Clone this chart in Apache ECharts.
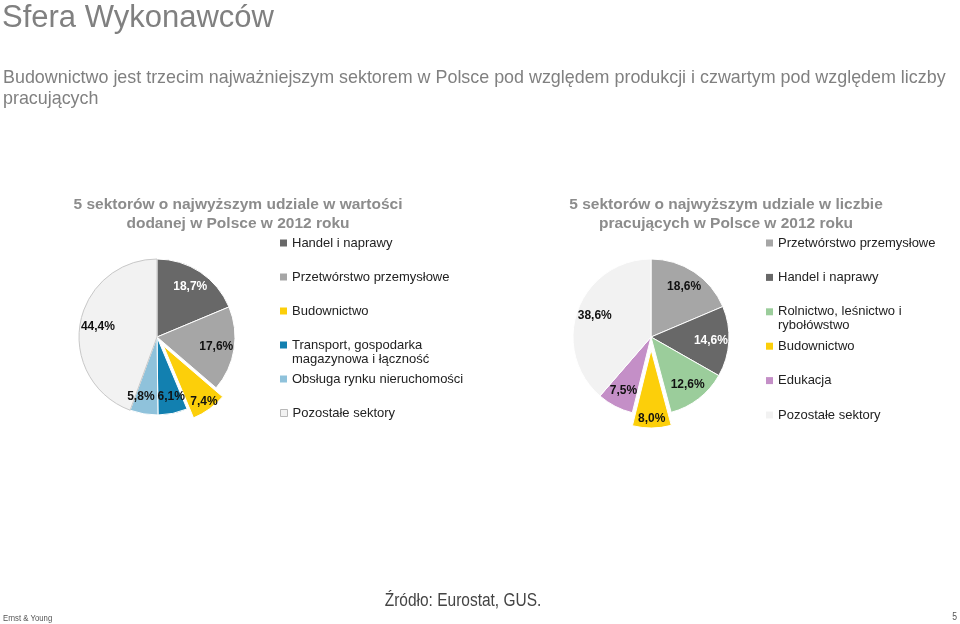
<!DOCTYPE html>
<html>
<head>
<meta charset="utf-8">
<script src="https://cdn.jsdelivr.net/npm/echarts@6/dist/echarts.min.js"></script>
<style>
    html, body { margin: 0; padding: 0; background: #fff; }
    #main { width: 960px; height: 624px; }
</style>
</head>
<body>
<div id="main"></div>
<script>
    // wartość dodana (lewy wykres)
    var leftNames = ['Handel i naprawy', 'Przetwórstwo przemysłowe', 'Budownictwo',
        'Transport, gospodarka\nmagazynowa i łączność', 'Obsługa rynku nieruchomości', 'Pozostałe sektory'];
    var leftValues = [18.7, 17.6, 7.4, 6.1, 5.8, 44.4];

    // liczba pracujących (prawy wykres)
    var rightNames = ['Przetwórstwo przemysłowe', 'Handel i naprawy', 'Rolnictwo, leśnictwo i\nrybołówstwo',
        'Budownictwo', 'Edukacja', 'Pozostałe sektory'];
    var rightValues = [18.6, 14.6, 12.6, 8.0, 7.5, 38.6];

    var colors = {
        'Handel i naprawy': '#686868',
        'Przetwórstwo przemysłowe': '#a6a6a6',
        'Budownictwo': '#fccf0a',
        'Transport, gospodarka\nmagazynowa i łączność': '#1280b0',
        'Obsługa rynku nieruchomości': '#8fc2db',
        'Rolnictwo, leśnictwo i\nrybołówstwo': '#9bcd9b',
        'Edukacja': '#c48fc7',
        'Pozostałe sektory': '#f2f2f2'
    };
    var whiteLabel = ['Handel i naprawy'];
    // dwie wąskie sąsiednie etykiety na dole lewego wykresu - rozsunięte
    var labelNudge = {
        'Transport, gospodarka\nmagazynowa i łączność': [2, 1],
        'Obsługa rynku nieruchomości': [-6, 1]
    };
    var font = 'Arial, "Liberation Sans", Helvetica, sans-serif';

    function fmt(p) {
        return p.value.toFixed(1).replace('.', ',') + '%';
    }

    function pieData(names, values, withBorder) {
        return names.map(function (n, i) {
            var last = n === 'Pozostałe sektory';
            return {
                name: n,
                value: values[i],
                selected: n === 'Budownictwo',
                itemStyle: {
                    color: colors[n],
                    borderColor: last && withBorder ? '#c8c8c8' : '#fff',
                    borderWidth: 1
                }
            };
        });
    }

    function labelData(names, values) {
        return names.map(function (n, i) {
            var label = { color: whiteLabel.indexOf(n) >= 0 ? '#fff' : '#111' };
            if (labelNudge[n]) label.offset = labelNudge[n];
            return {
                name: n,
                value: values[i],
                selected: n === 'Budownictwo',
                label: label
            };
        });
    }

    function pieSeries(names, values, center, withBorder, offset) {
        return [{
            type: 'pie',
            center: center,
            radius: [0, 78],
            startAngle: 90,
            selectedMode: 'single',
            selectedOffset: offset,
            label: { show: false },
            labelLine: { show: false },
            emphasis: { disabled: true },
            data: pieData(names, values, withBorder)
        }, {
            // tylko etykiety, bliżej krawędzi niż domyślne 'inside'
            type: 'pie',
            center: center,
            radius: [0, 114],
            startAngle: 90,
            silent: true,
            avoidLabelOverlap: false,
            selectedMode: 'single',
            selectedOffset: offset + 9,
            itemStyle: { color: 'rgba(0,0,0,0)', borderWidth: 0 },
            label: {
                show: true,
                position: 'inside',
                formatter: fmt,
                fontFamily: font,
                fontSize: 12,
                fontWeight: 'bold'
            },
            labelLayout: { hideOverlap: false },
            labelLine: { show: false },
            emphasis: { disabled: true },
            data: labelData(names, values)
        }];
    }

    function legends(names, x, y0, step, extra) {
        return names.map(function (n, i) {
            var multi = n.indexOf('\n') >= 0;
            var item = { name: n };
            if (extra && extra[n]) item.itemStyle = extra[n];
            return {
                data: [item],
                left: x,
                top: y0 + i * step - (multi ? 21 : 7),
                orient: 'vertical',
                padding: 0,
                icon: 'rect',
                itemWidth: 7,
                itemHeight: 7,
                selectedMode: false,
                itemStyle: { borderWidth: 0 },
                // pusta linia na górze, żeby ikona stała przy pierwszej linii tekstu
                formatter: function (name) {
                    return name.indexOf('\n') >= 0 ? '\n' + name : name;
                },
                textStyle: {
                    fontFamily: font,
                    fontSize: 13,
                    lineHeight: 14,
                    color: '#222'
                }
            };
        });
    }

    var chart = echarts.init(document.getElementById('main'));

    var option = {
        backgroundColor: '#fff',
        animation: false,
        title: [{
            text: 'Sfera Wykonawców',
            left: 2, top: 2, padding: 0,
            textStyle: { fontFamily: font, fontSize: 31, fontWeight: 'normal', color: '#808080', lineHeight: 32 }
        }, {
            text: 'Budownictwo jest trzecim najważniejszym sektorem w Polsce pod względem produkcji i czwartym pod względem liczby\npracujących',
            left: 3, top: 68, padding: 0,
            textStyle: { fontFamily: font, fontSize: 17.9, fontWeight: 'normal', color: '#808080', lineHeight: 21 }
        }, {
            text: '5 sektorów o najwyższym udziale w wartości\ndodanej w Polsce w 2012 roku',
            left: 238, top: 195, padding: 0, textAlign: 'center',
            textStyle: { fontFamily: font, fontSize: 15.5, fontWeight: 'bold', color: '#8c8c8c', lineHeight: 19 }
        }, {
            text: '5 sektorów o najwyższym udziale w liczbie\npracujących w Polsce w 2012 roku',
            left: 726, top: 195, padding: 0, textAlign: 'center',
            textStyle: { fontFamily: font, fontSize: 15.5, fontWeight: 'bold', color: '#8c8c8c', lineHeight: 19 }
        }],
        graphic: [{
            type: 'text', x: 463, y: 601, scaleX: 0.86,
            style: { text: 'Źródło: Eurostat, GUS.', font: '18px ' + font, fill: '#444', align: 'center', verticalAlign: 'middle' }
        }, {
            type: 'text', x: 3, y: 619, scaleX: 0.86,
            style: { text: 'Ernst & Young', font: '9px ' + font, fill: '#555', align: 'left', verticalAlign: 'middle' }
        }, {
            type: 'text', x: 957, y: 617, scaleX: 0.86,
            style: { text: '5', font: '10px ' + font, fill: '#555', align: 'right', verticalAlign: 'middle' }
        }],
        legend: legends(leftNames, 280, 243, 34, {
            'Pozostałe sektory': { borderWidth: 1, borderColor: '#b8b8b8' }
        }).concat(legends(rightNames, 766, 243, 34.4, {
            'Pozostałe sektory': { borderWidth: 0 }
        })),
        series: pieSeries(leftNames, leftValues, [157, 337], true, 11)
            .concat(pieSeries(rightNames, rightValues, [651, 337], false, 13))
    };

    chart.setOption(option);
</script>
</body>
</html>
